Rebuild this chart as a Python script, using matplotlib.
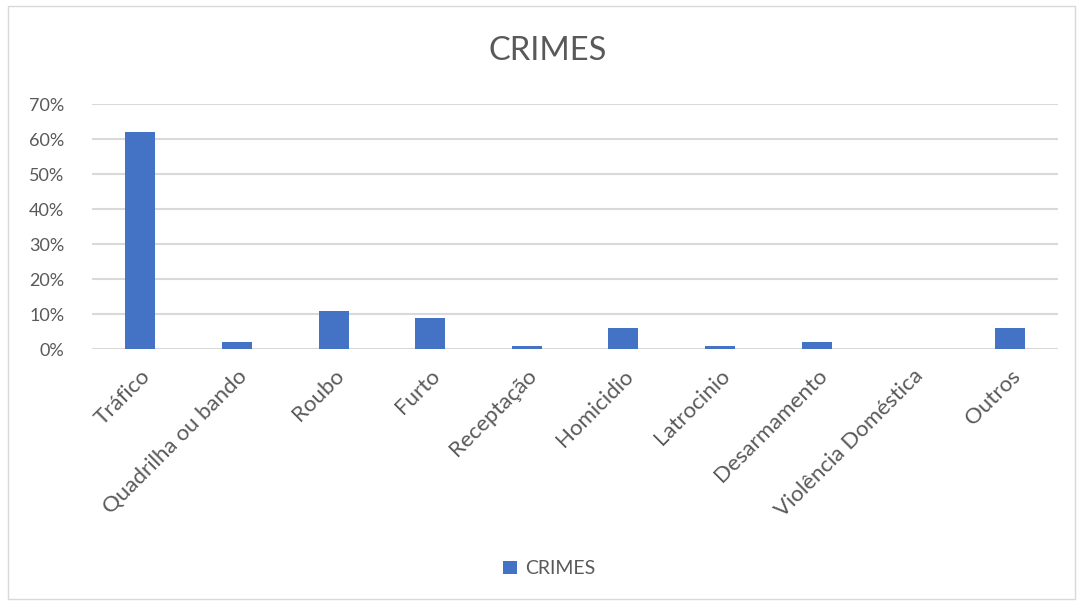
import matplotlib.pyplot as plt
from matplotlib.patches import Rectangle
from matplotlib.ticker import PercentFormatter

plt.rcParams['font.family'] = ['Lato', 'DejaVu Sans']

crimes = ['Tráfico', 'Quadrilha ou bando', 'Roubo', 'Furto', 'Receptação',
          'Homicidio', 'Latrocinio', 'Desarmamento', 'Violência Doméstica', 'Outros']
valores = [0.62, 0.02, 0.11, 0.09, 0.01, 0.06, 0.01, 0.02, 0.0, 0.06]

fig = plt.figure(figsize=(10.83, 6.02), dpi=100)
ax = fig.add_axes([0.085, 0.42, 0.892, 0.407])

ax.bar(range(len(crimes)), valores, width=0.31, color='#4472C4', label='CRIMES', zorder=3)

ax.set_ylim(0, 0.70)
ax.set_xlim(-0.5, len(crimes) - 0.5)
ax.set_yticks([i / 10 for i in range(8)])
ax.yaxis.set_major_formatter(PercentFormatter(1.0, decimals=0))
ax.grid(axis='y', color='#d9d9d9', linewidth=1.5, zorder=0)
for s in ax.spines.values():
    s.set_visible(False)
ax.tick_params(length=0, colors='#595959', labelsize=13)
ax.tick_params(axis='y', pad=20)
ax.tick_params(axis='x', pad=12, labelsize=16)
ax.set_xticks(range(len(crimes)))
ax.set_xticklabels(crimes, rotation=45, ha='right', rotation_mode='anchor')

fig.suptitle('CRIMES', x=0.506, y=0.94, fontsize=23.5, color='#595959')
fig.legend(loc='center', bbox_to_anchor=(0.507, 0.055), frameon=False,
           fontsize=14, labelcolor='#595959', handlelength=0.7, handleheight=0.7,
           handletextpad=0.4)

fig.add_artist(Rectangle((0.007, 0.005), 0.986, 0.985, transform=fig.transFigure,
                         fill=False, edgecolor='#d9d9d9', linewidth=1))

fig.savefig('out.png', dpi=100)
